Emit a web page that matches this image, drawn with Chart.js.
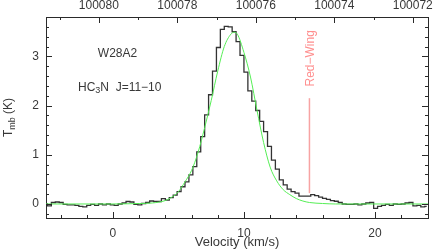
<!DOCTYPE html>
<html>
<head>
<meta charset="utf-8">
<script src="https://cdn.jsdelivr.net/npm/chart.js@4.4.1/dist/chart.umd.min.js"></script>
<style>
  html, body { margin: 0; padding: 0; background: #fff; }
</style>
</head>
<body>
<canvas id="spec" width="436" height="250"></canvas>
<script>
// channel velocities (km/s), 0.3 km/s channels
const vel = [
  -5.15,-4.85,-4.55,-4.25,-3.95,-3.65,-3.35,-3.05,-2.75,-2.45,
  -2.15,-1.85,-1.55,-1.25,-0.95,-0.65,-0.35,-0.05,0.25,0.55,
  0.85,1.15,1.45,1.75,2.05,2.35,2.65,2.95,3.25,3.55,
  3.85,4.15,4.45,4.75,5.05,5.35,5.65,5.95,6.25,6.55,
  6.85,7.15,7.45,7.75,8.05,8.35,8.65,8.95,9.25,9.55,
  9.85,10.15,10.45,10.75,11.05,11.35,11.65,11.95,12.25,12.55,
  12.85,13.15,13.45,13.75,14.05,14.35,14.65,14.95,15.25,15.55,
  15.85,16.15,16.45,16.75,17.05,17.35,17.65,17.95,18.25,18.55,
  18.85,19.15,19.45,19.75,20.05,20.35,20.65,20.95,21.25,21.55,
  21.85,22.15,22.45,22.75,23.05,23.35,23.65,23.95
];
// antenna temperature per channel (K)
const tmb = [
  0.00,-0.04,0.03,0.04,0.03,-0.01,-0.02,-0.02,-0.03,-0.05,
  -0.06,-0.03,-0.01,-0.03,0.00,-0.02,0.00,-0.02,-0.03,0.00,
  0.02,0.05,0.04,-0.01,-0.02,0.01,0.03,0.06,0.05,0.05,
  0.11,0.08,0.13,0.18,0.25,0.35,0.45,0.59,0.76,1.06,
  1.37,1.81,2.22,2.70,3.18,3.55,3.61,3.60,3.50,3.30,
  3.02,2.68,2.30,2.09,1.90,1.68,1.47,1.17,0.89,0.71,
  0.49,0.39,0.30,0.25,0.22,0.16,0.16,0.16,0.19,0.17,
  0.14,0.115,0.095,0.07,0.055,0.03,0.00,-0.01,-0.01,0.00,
  -0.02,0.00,0.02,0.03,-0.09,-0.05,-0.03,-0.01,-0.03,0.00,
  -0.01,0.00,0.02,0.03,-0.04,-0.03,-0.06,-0.05
];
// gaussian fit
const fitVel = [-5.2, 0, 2, 3, 4, 4.5, 5, 5.5, 6, 6.5, 7, 7.5, 8, 8.5, 9, 9.25, 9.5, 10, 10.5, 11, 11.5, 12, 12.5, 13, 13.5, 14, 14.5, 15, 16, 17, 24.1];
const fitT   = [0, 0, 0.01, 0.02, 0.07, 0.14, 0.25, 0.45, 0.68, 1.05, 1.55, 2.1, 2.7, 3.2, 3.45, 3.49, 3.45, 3.08, 2.58, 1.9, 1.25, 0.75, 0.47, 0.29, 0.19, 0.11, 0.06, 0.03, 0.01, 0, 0];
// red-wing marker
const wingVel = [15, 15];
const wingT = [0.22, 2.15];

// axis ticks
const xMajor = [0, 10, 20];
const xMinor = [-4, -2, 2, 4, 6, 8, 12, 14, 16, 18, 22];
const yMajor = [0, 1, 2, 3];
const yMinor = [-0.2, 0.2, 0.4, 0.6, 0.8, 1.2, 1.4, 1.6, 1.8, 2.2, 2.4, 2.6, 2.8, 3.2, 3.4, 3.6];
const fMajor = [100072, 100074, 100076, 100078, 100080];
const fMinor = [100073, 100075, 100077, 100079, 100081];

// sky frequency (MHz) at v=0 and MHz per km/s
const F0 = 100079.64;
const DFDV = 0.3338;
const V_MIN = -5.11, V_MAX = 24.05;
const T_MIN = -0.285, T_MAX = 3.8;

const INK = '#2a2a2a';
const TXT = '#383838';
const FONT = 'Liberation Sans, Arial, sans-serif';

function fixTicks(list) {
  return scale => { scale.ticks = list.map(v => ({ value: v })); };
}

const tickPlugin = {
  id: 'inwardTicks',
  afterDraw(chart) {
    const { ctx, chartArea: a, scales: s } = chart;
    ctx.save();
    ctx.strokeStyle = INK;
    ctx.lineWidth = 1;
    ctx.beginPath();
    const vx = (scale, vals, len) => vals.forEach(v => {
      const px = Math.round(scale.getPixelForValue(v)) + 0.5;
      ctx.moveTo(px, a.bottom); ctx.lineTo(px, a.bottom - len);
    });
    const tx = (scale, vals, len) => vals.forEach(v => {
      const px = Math.round(scale.getPixelForValue(v)) + 0.5;
      ctx.moveTo(px, a.top); ctx.lineTo(px, a.top + len);
    });
    const hy = (vals, len) => vals.forEach(v => {
      const py = Math.round(s.y.getPixelForValue(v)) + 0.5;
      ctx.moveTo(a.left, py); ctx.lineTo(a.left + len, py);
      ctx.moveTo(a.right, py); ctx.lineTo(a.right - len, py);
    });
    vx(s.x, xMajor, 6); vx(s.x, xMinor, 3);
    tx(s.x2, fMajor, 6); tx(s.x2, fMinor, 3);
    hy(yMajor, 6); hy(yMinor, 3);
    ctx.stroke();

    // labels inside the plot
    ctx.fillStyle = TXT;
    ctx.textBaseline = 'middle';
    ctx.font = '12px ' + FONT;
    ctx.textAlign = 'center';
    ctx.fillText('W28A2', s.x.getPixelForValue(0.35), s.y.getPixelForValue(3.05));

    let x = s.x.getPixelForValue(-2.67);
    const y = s.y.getPixelForValue(2.36);
    ctx.textAlign = 'left';
    ctx.fillText('HC', x, y); x += ctx.measureText('HC').width;
    ctx.font = '9px ' + FONT;
    ctx.fillText('3', x, y + 3); x += ctx.measureText('3').width;
    ctx.font = '12px ' + FONT;
    ctx.fillText('N  J=11\u221210', x, y);

    // red-wing label
    ctx.save();
    ctx.translate(s.x.getPixelForValue(15) + 1, s.y.getPixelForValue(2.96));
    ctx.rotate(-Math.PI / 2);
    ctx.fillStyle = '#ff8f8f';
    ctx.textAlign = 'center';
    ctx.fillText('Red\u2212Wing', 0, 0);
    ctx.restore();

    // y axis title T_mb (K)
    ctx.save();
    ctx.translate(12, (a.top + a.bottom) / 2);
    ctx.rotate(-Math.PI / 2);
    ctx.textBaseline = 'alphabetic';
    ctx.textAlign = 'left';
    ctx.font = '12px ' + FONT;
    const wT = ctx.measureText('T').width;
    ctx.font = '9px ' + FONT;
    const wS = ctx.measureText('mb').width;
    ctx.font = '12px ' + FONT;
    const wK = ctx.measureText(' (K)').width;
    let p = -(wT + wS + wK) / 2;
    ctx.fillText('T', p, 0); p += wT;
    ctx.font = '9px ' + FONT;
    ctx.fillText('mb', p, 3); p += wS;
    ctx.font = '12px ' + FONT;
    ctx.fillText(' (K)', p, 0);
    ctx.restore();
    ctx.restore();
  }
};

const tickFont = { family: FONT, size: 12 };

new Chart(document.getElementById('spec'), {
  type: 'line',
  data: {
    datasets: [
      {
        label: 'fit',
        data: fitVel.map((v, i) => ({ x: v, y: fitT[i] })),
        borderColor: '#55ee55',
        borderWidth: 1,
        pointRadius: 0,
        cubicInterpolationMode: 'monotone',
        order: 0
      },
      {
        label: 'HC3N',
        data: vel.map((v, i) => ({ x: v, y: tmb[i] })),
        borderColor: '#333',
        borderWidth: 1.3,
        pointRadius: 0,
        stepped: 'middle',
        order: 1
      },
      {
        label: 'Red-Wing',
        data: wingVel.map((v, i) => ({ x: v, y: wingT[i] })),
        borderColor: '#f7a3a3',
        borderWidth: 1.5,
        pointRadius: 0,
        order: 2
      }
    ]
  },
  options: {
    responsive: false,
    animation: false,
    layout: { padding: 0 },
    plugins: { legend: { display: false }, tooltip: { enabled: false } },
    scales: {
      x: {
        type: 'linear', position: 'bottom', min: V_MIN, max: V_MAX,
        afterFit: s => { s.height = 32; },
        afterBuildTicks: fixTicks(xMajor),
        grid: { display: false, drawTicks: false },
        border: { display: true, color: INK, width: 1 },
        ticks: { color: TXT, font: tickFont, padding: 8, maxRotation: 0, autoSkip: false, callback: v => String(v) },
        title: { display: true, text: 'Velocity (km/s)', color: TXT, font: { family: FONT, size: 13 }, padding: { top: 0, bottom: 0 } }
      },
      x2: {
        type: 'linear', position: 'top', reverse: true,
        min: F0 - DFDV * V_MAX, max: F0 - DFDV * V_MIN,
        afterFit: s => { s.height = 17; },
        afterBuildTicks: fixTicks(fMajor),
        grid: { display: false, drawTicks: false },
        border: { display: true, color: INK, width: 1 },
        ticks: { color: TXT, font: tickFont, padding: 4, maxRotation: 0, autoSkip: false, callback: v => String(v) }
      },
      y: {
        type: 'linear', position: 'left', min: T_MIN, max: T_MAX,
        afterFit: s => { s.width = 46; },
        afterBuildTicks: fixTicks(yMajor),
        grid: { display: false, drawTicks: false },
        border: { display: true, color: INK, width: 1 },
        ticks: { color: TXT, font: tickFont, padding: 7, callback: v => String(v) }
      },
      y2: {
        type: 'linear', position: 'right', min: T_MIN, max: T_MAX,
        afterFit: s => { s.width = 8; },
        grid: { display: false, drawTicks: false },
        border: { display: true, color: INK, width: 1 },
        ticks: { display: false }
      }
    }
  },
  plugins: [tickPlugin]
});
</script>
</body>
</html>
